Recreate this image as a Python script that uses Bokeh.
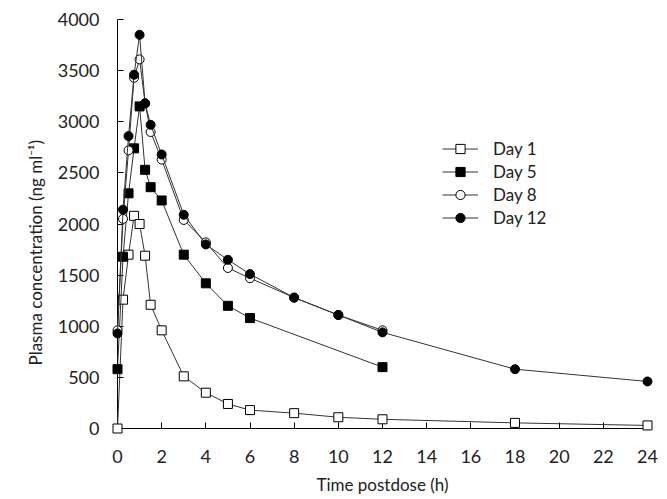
from bokeh.plotting import figure
from bokeh.models import Range1d, FixedTicker, Legend, LegendItem, Title
from bokeh.embed import file_html
from bokeh.resources import INLINE

# ---- data ----
t_day1 = [0, 0.25, 0.5, 0.75, 1, 1.25, 1.5, 2, 3, 4, 5, 6, 8, 10, 12, 18, 24]
c_day1 = [0, 1260, 1700, 2080, 2000, 1690, 1210, 960, 510, 350, 240, 180, 150, 110, 90, 55, 30]

t_day5 = [0, 0.25, 0.5, 0.75, 1, 1.25, 1.5, 2, 3, 4, 5, 6, 12]
c_day5 = [580, 1680, 2300, 2740, 3150, 2530, 2360, 2230, 1700, 1420, 1200, 1080, 600]

t_day8 = [0, 0.25, 0.5, 0.75, 1, 1.25, 1.5, 2, 3, 4, 5, 6, 8, 10, 12]
c_day8 = [960, 2050, 2720, 3430, 3610, 3180, 2900, 2630, 2040, 1820, 1570, 1470, 1280, 1110, 960]

t_day12 = [0, 0.25, 0.5, 0.75, 1, 1.25, 1.5, 2, 3, 4, 5, 6, 8, 10, 12, 18, 24]
c_day12 = [930, 2140, 2860, 3460, 3850, 3180, 2970, 2680, 2090, 1800, 1650, 1510, 1280, 1110, 940, 580, 460]

x_ticks = list(range(0, 25, 2))
y_ticks = list(range(0, 4001, 500))

FONT = "Lato"

p = figure(width=667, height=499, output_backend="svg", toolbar_location=None,
           x_range=Range1d(0, 24), y_range=Range1d(0, 4000),
           min_border_left=117, min_border_right=20, min_border_top=19, min_border_bottom=71)
p.outline_line_color = None
p.xgrid.visible = False
p.ygrid.visible = False
p.background_fill_color = "white"

for ax in (p.xaxis[0], p.yaxis[0]):
    ax.major_tick_in = 6
    ax.major_tick_out = 0
    ax.minor_tick_line_color = None
    ax.axis_line_color = "black"
    ax.major_tick_line_color = "black"
    ax.major_label_text_font = FONT
    ax.major_label_text_font_size = "18px"
    ax.major_label_text_color = "#222222"
    ax.axis_label_text_font = FONT
    ax.axis_label_text_font_size = "17px"
    ax.axis_label_text_font_style = "normal"
    ax.axis_label_text_color = "#222222"

p.xaxis.ticker = FixedTicker(ticks=x_ticks)
p.yaxis.ticker = FixedTicker(ticks=y_ticks)
p.xaxis.axis_label = "Time postdose (h)"
p.xaxis.major_label_standoff = 21
p.yaxis.major_label_standoff = 18
p.xaxis.axis_label_standoff = 8

ylab = Title(text="Plasma concentration (ng ml\u207b\u00b9)", align="left", offset=63,
             standoff=18, text_font=FONT, text_font_size="17px",
             text_font_style="normal", text_color="#222222")
p.add_layout(ylab, "left")

series = [
    ("Day 1", t_day1, c_day1, "square", "white"),
    ("Day 5", t_day5, c_day5, "square", "black"),
    ("Day 8", t_day8, c_day8, "circle", "white"),
    ("Day 12", t_day12, c_day12, "circle", "black"),
]

items = []
for name, tx, cy, marker, fill in series:
    l = p.line(tx, cy, line_color="#333333", line_width=1, level="overlay")
    s = p.scatter(tx, cy, marker=marker, size=9, fill_color=fill,
                  line_color="black", line_width=1, level="overlay")
    items.append(LegendItem(label=name, renderers=[l, s]))

legend = Legend(items=items, location=(325, 199), border_line_color=None,
                background_fill_alpha=0, padding=0, margin=0, spacing=0,
                label_height=23, glyph_height=23, glyph_width=36,
                label_standoff=15, label_text_font=FONT,
                label_text_font_size="17px", label_text_color="#222222")
p.add_layout(legend, "center")

open("out.html", "w").write(file_html(p, INLINE))
